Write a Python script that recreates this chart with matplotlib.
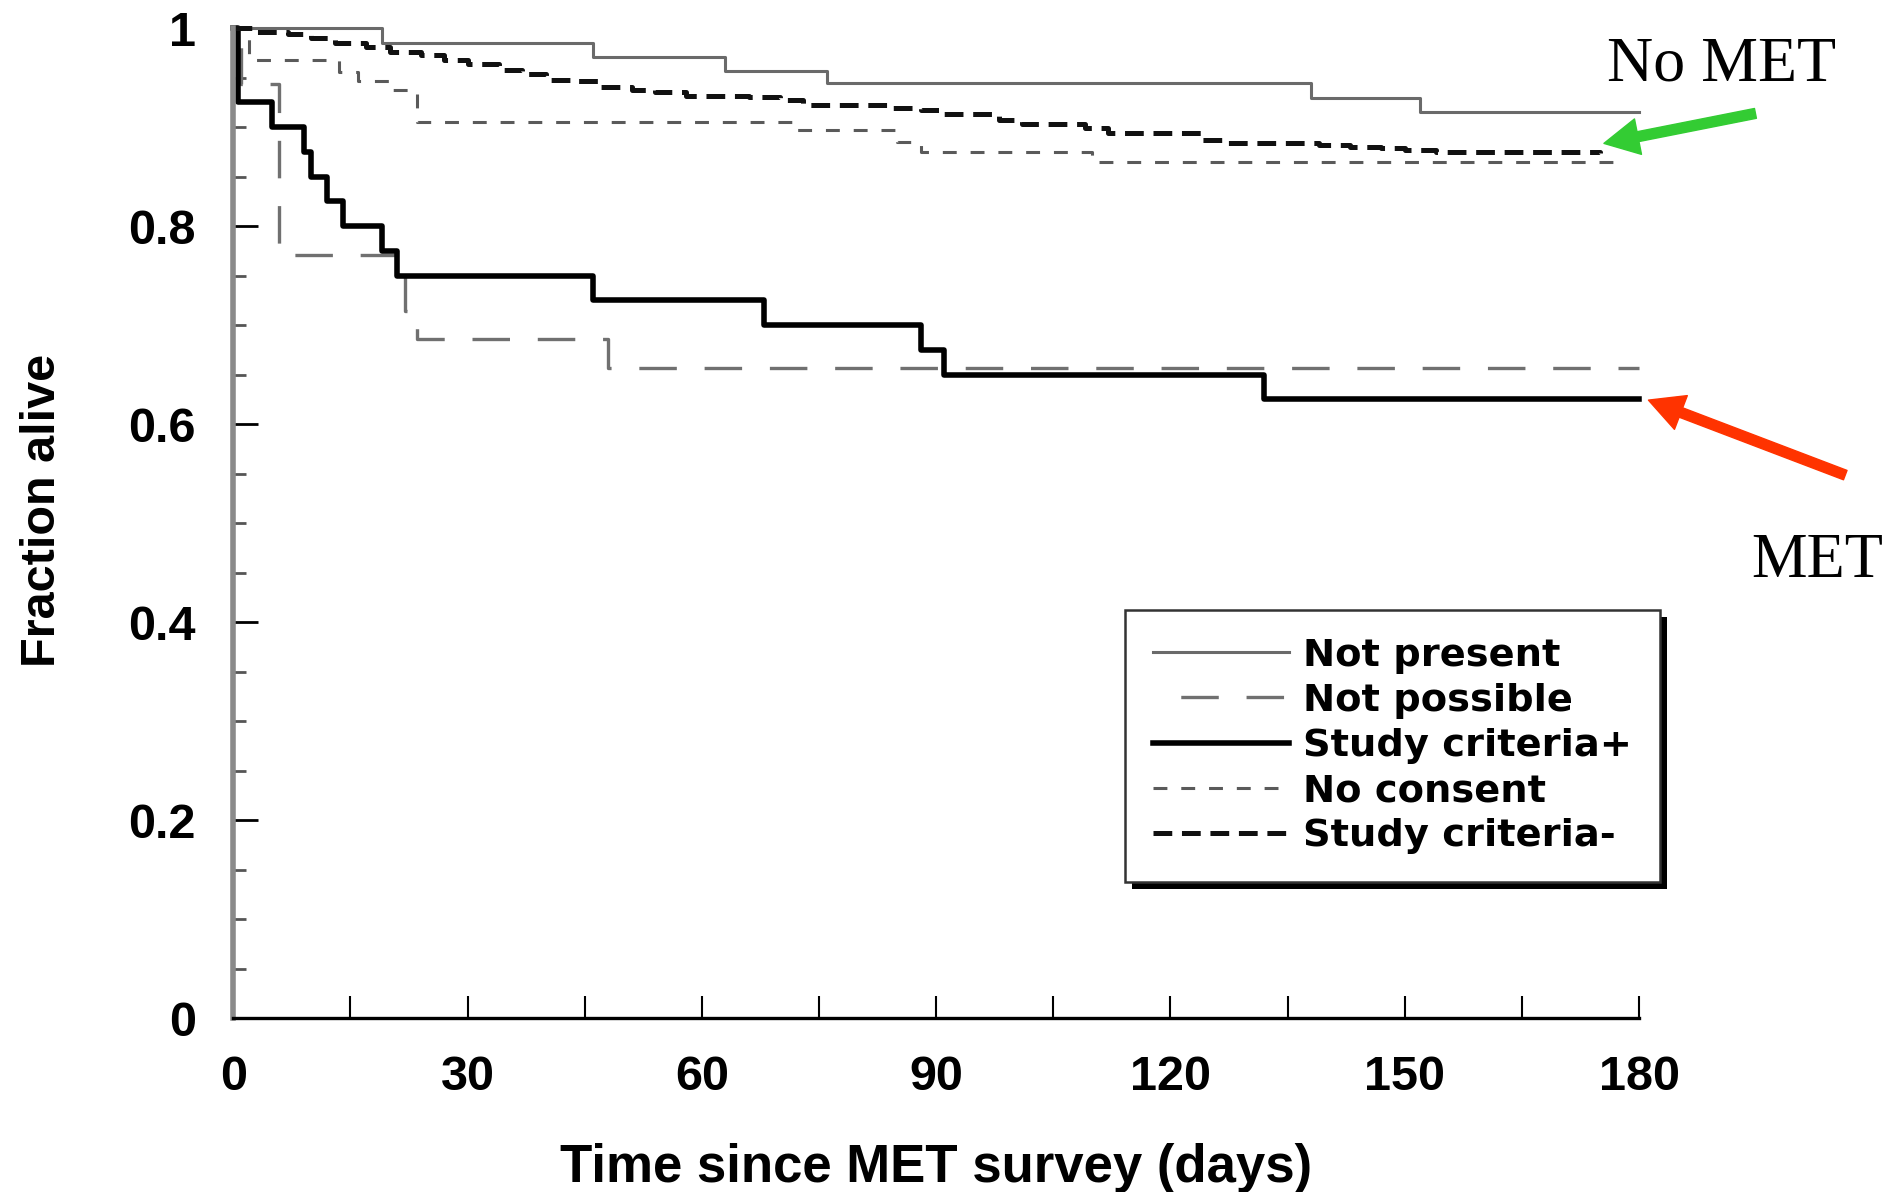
import numpy as np
import matplotlib.pyplot as plt
from matplotlib import patheffects

# Kaplan-Meier style step curves (days, fraction alive)
t_not_present = [0, 19, 46, 63, 76, 138, 152, 180]
s_not_present = [1.0, 0.985, 0.971, 0.957, 0.944, 0.929, 0.915, 0.915]

t_not_possible = [0, 1, 5.8, 22, 23.5, 48, 180]
s_not_possible = [1.0, 0.943, 0.771, 0.714, 0.686, 0.657, 0.657]

t_crit_plus = [0, 0.6, 5, 9, 10, 12, 14, 19, 21, 46, 68, 88, 91, 132, 180]
s_crit_plus = [1.0, 0.925, 0.900, 0.875, 0.850, 0.825, 0.800, 0.775, 0.750,
               0.725, 0.700, 0.675, 0.650, 0.625, 0.625]

t_no_consent = [0, 2, 13.5, 16, 20.5, 23.5, 72, 85, 88, 110, 178]
s_no_consent = [1.0, 0.968, 0.956, 0.947, 0.937, 0.905, 0.897, 0.885, 0.875,
                0.865, 0.865]

t_crit_minus = [0, 3, 7, 10, 13, 17, 20, 24, 27, 30, 34, 37, 40, 44, 47, 51,
                54, 58, 66, 70, 73, 84, 88, 91, 98, 101, 109, 112, 124, 127,
                139, 143, 147, 150, 154, 175]
s_crit_minus = [1.0, 0.996, 0.994, 0.990, 0.985, 0.981, 0.976, 0.973, 0.968,
                0.964, 0.958, 0.954, 0.948, 0.946, 0.940, 0.937, 0.935, 0.931,
                0.930, 0.927, 0.922, 0.919, 0.917, 0.913, 0.907, 0.903, 0.899,
                0.894, 0.887, 0.884, 0.882, 0.880, 0.8785, 0.877, 0.875, 0.874]

labels = ["Not present", "Not possible", "Study criteria+", "No consent",
          "Study criteria-"]

x_ticks = [0, 30, 60, 90, 120, 150, 180]
y_ticks = [0, 0.2, 0.4, 0.6, 0.8, 1.0]
y_ticklabels = ["0", "0.2", "0.4", "0.6", "0.8", "1"]

# annotations (data coords)
no_met_text = (190.6, 0.947)
no_met_tip, no_met_tail = (175.5, 0.8835), (194.9, 0.9138)
met_text = (202.8, 0.446)
met_tip, met_tail = (181.2, 0.6243), (206.4, 0.5486)

plt.rcParams['lines.scale_dashes'] = False
plt.rcParams['font.family'] = ['Liberation Sans', 'DejaVu Sans']

fig = plt.figure(figsize=(18.94, 11.92), dpi=100)
ax = fig.add_axes([0.1232, 0.1456, 0.7422, 0.8309])

ax.plot(t_not_present, s_not_present, drawstyle='steps-post', color='#6a6a6a',
        lw=2.2, label=labels[0], clip_on=False)
ax.plot(t_not_possible, s_not_possible, drawstyle='steps-post', color='#707070',
        lw=2.4, ls=(27, (27, 20)), label=labels[1], clip_on=False)
ax.plot(t_crit_plus, s_crit_plus, drawstyle='steps-post', color='black',
        lw=4, label=labels[2], clip_on=False)
ax.plot(t_no_consent, s_no_consent, drawstyle='steps-post', color='#5a5a5a',
        lw=2.2, ls=(0, (10, 10)), label=labels[3], clip_on=False)
ax.plot(t_crit_minus, s_crit_minus, drawstyle='steps-post', color='#111111',
        lw=3.6, ls=(0, (13.5, 7)), label=labels[4], clip_on=False)

ax.set_xlim(0, 180)
ax.set_ylim(0, 1)
ax.spines['top'].set_visible(False)
ax.spines['right'].set_visible(False)
ax.spines['left'].set_color('#8a8a8a')
ax.spines['left'].set_linewidth(4)
ax.spines['bottom'].set_color('black')
ax.spines['bottom'].set_linewidth(2.4)

ax.set_xticks(x_ticks)
ax.set_xticks(np.arange(15, 180, 30), minor=True)
ax.set_yticks(y_ticks)
ax.set_yticklabels(y_ticklabels)
ax.set_yticks([v for v in np.arange(0.05, 1.0, 0.05) if round(v * 20) % 4],
              minor=True)
ax.tick_params(axis='x', which='both', direction='in', length=16, width=1.5,
               color='black', pad=26, labelsize=35)
ax.tick_params(axis='y', which='major', direction='in', length=18, width=2,
               color='black', pad=27, labelsize=35)
ax.tick_params(axis='y', which='minor', direction='in', length=9.5, width=2,
               color='#555555')
for lab in ax.get_xticklabels() + ax.get_yticklabels():
    lab.set_fontweight('bold')

ax.set_xlabel("Time since MET survey (days)", fontsize=38, fontweight='bold')
ax.xaxis.set_label_coords(0.5, -0.126)
ax.set_ylabel("Fraction alive", fontsize=35, fontweight='bold')
ax.yaxis.set_label_coords(-0.120, 0.513)

leg = ax.legend(loc='upper left', bbox_to_anchor=(0.594, 0.4883),
                bbox_transform=fig.transFigure, borderaxespad=0,
                prop={'family': 'DejaVu Sans', 'weight': 'bold', 'size': 27.6},
                handlelength=3.55, handletextpad=0.38, labelspacing=0.24,
                borderpad=0.72, fancybox=False, framealpha=1, edgecolor='#333333')
frame = leg.get_frame()
frame.set_linewidth(1.8)
frame.set_path_effects([patheffects.SimplePatchShadow(offset=(5, -5),
                                                      shadow_rgbFace='black',
                                                      alpha=1),
                        patheffects.Normal()])

ax.text(*no_met_text, "No MET", family='Liberation Serif', fontsize=46,
        ha='center', va='baseline')
ax.text(*met_text, "MET", family='Liberation Serif', fontsize=45,
        ha='center', va='baseline')
arrow_style = 'simple,head_length=2.5,head_width=2.6,tail_width=0.72'
ax.annotate('', xy=no_met_tip, xytext=no_met_tail, annotation_clip=False,
            arrowprops=dict(arrowstyle=arrow_style, color='#33cc33',
                            mutation_scale=10, shrinkA=0, shrinkB=0))
ax.annotate('', xy=met_tip, xytext=met_tail, annotation_clip=False,
            arrowprops=dict(arrowstyle=arrow_style, color='#ff3300',
                            mutation_scale=10, shrinkA=0, shrinkB=0))

fig.savefig('out.png', dpi=100)
